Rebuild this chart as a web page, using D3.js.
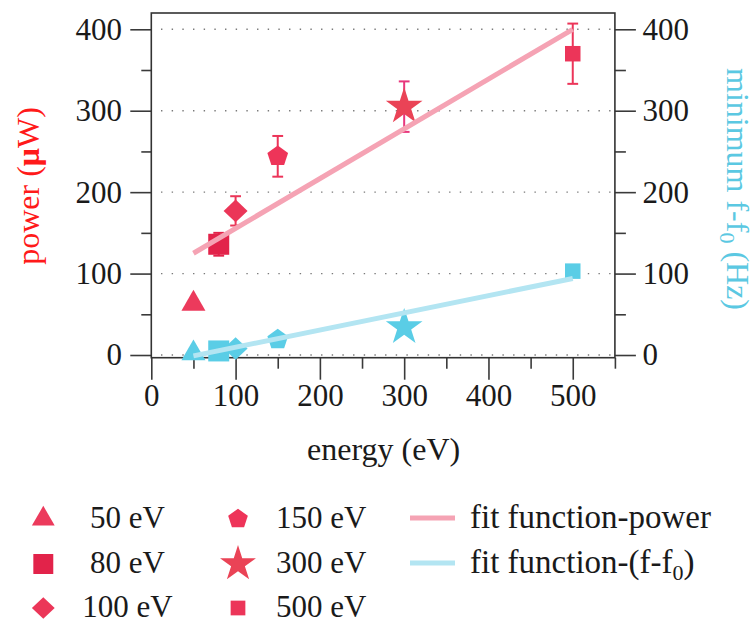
<!DOCTYPE html>
<html>
<head>
<meta charset="utf-8">
<script src="https://cdn.jsdelivr.net/npm/d3@7/dist/d3.min.js"></script>
</head>
<body style="margin:0">
<svg id="chart" width="753" height="622" style="display:block"></svg>
<script>
// Beam energies (eV) and the two measured quantities at each energy
const energies = [50, 80, 100, 150, 300, 500];
const energyLabels = ["50 eV", "80 eV", "100 eV", "150 eV", "300 eV", "500 eV"];
const powerValues = [63, 136, 177, 244, 305, 370];     // µW
const powerErrors = [0, 14, 18, 25, 31, 37];           // µW
const freqValues = [2, 5, 8, 19, 34, 103];             // Hz (minimum f - f0)

// Linear fits, evaluated at the ends of the fitted range
const fitEnergy = [50, 500];
const fitPower = [125, 400];
const fitFreq = [-1, 94];

// Axis ticks
const xMajorTicks = [0, 100, 200, 300, 400, 500];
const xMinorTicks = [50, 150, 250, 350, 450, 550];
const yMajorTicks = [0, 100, 200, 300, 400];
const yMinorTicks = [50, 150, 250, 350];

// Marker look for each energy
const markerShape = ["triangle", "square", "diamond", "pentagon", "star", "square"];
const markerExtent = [24, 21, 24, 20.7, 36.7, 15.5];
const redShades = ["#ec3a5c", "#e2234a", "#eb3658", "#ee3459", "#ea4356", "#ec3559"];
const errShades = ["#ec3a5c", "#e2234a", "#eb3658", "#ec3459", "#e8367c", "#ec3559"];
const blue = "#5acde6";
const fitPink = "#f5a3b4";
const fitBlue = "#b3e5f2";
const FONT = "Liberation Serif";
const INK = "#1a1a1a";

const svg = d3.select("#chart");

const x = d3.scaleLinear().domain([0, 550]).range([151.3, 614.9]);
const y = d3.scaleLinear().domain([-3.3, 420]).range([357.7, 13]);
const yRight = d3.scaleLinear().domain([-3.3, 420]).range([357.7, 13]);

// Symbol path for a given shape, sized by its visual extent in px
function symbolPath(shape, extent) {
  if (shape === "triangle") {
    const r = extent / (2 * Math.sqrt(3));
    return d3.symbol(d3.symbolTriangle, r * r * 3 * Math.sqrt(3))();
  }
  if (shape === "square") {
    return d3.symbol(d3.symbolSquare, extent * extent)();
  }
  if (shape === "diamond") {
    const p = d3.path();
    const h = extent / 2, v = extent * 0.47;
    p.moveTo(0, -v); p.lineTo(h, 0); p.lineTo(0, v); p.lineTo(-h, 0); p.closePath();
    return p.toString();
  }
  if (shape === "pentagon") {
    const r = extent / (2 * Math.sin(Math.PI * 2 / 5));
    const pts = d3.range(5).map(k => {
      const a = -Math.PI / 2 + k * 2 * Math.PI / 5;
      return [r * Math.cos(a), r * Math.sin(a)];
    });
    return d3.line()(pts) + "Z";
  }
  if (shape === "star") {
    const r = extent / (2 * Math.sin(2 * Math.PI / 5));
    return d3.symbol(d3.symbolStar, r * r / 0.8908130915292852)();
  }
}

// Dotted horizontal grid
svg.append("g").selectAll("line").data(yMajorTicks).join("line")
  .attr("x1", x(0)).attr("x2", x(550))
  .attr("y1", d => y(d)).attr("y2", d => y(d))
  .attr("stroke", "#7a7a7a").attr("stroke-width", 1.4)
  .attr("stroke-dasharray", "1.4 9.27")
  .attr("stroke-dashoffset", 0.97);

// Axes: ticks point outward, labels in serif
function styleAxis(g) {
  g.attr("font-family", FONT).attr("font-size", 31);
  g.select(".domain").remove();
  g.selectAll(".tick line").attr("stroke", "#3a3a3a").attr("stroke-width", 1.6);
  g.selectAll(".tick text").attr("font-family", FONT).attr("font-size", 31).attr("fill", INK);
}
const bottomY = y(-3.3);
svg.append("g").attr("transform", `translate(0,${bottomY})`)
  .call(d3.axisBottom(x).tickValues(xMajorTicks).tickSize(22).tickPadding(4.8).tickFormat(d3.format("d")))
  .call(styleAxis);
svg.append("g").attr("transform", `translate(0,${bottomY})`)
  .call(d3.axisBottom(x).tickValues(xMinorTicks).tickSize(11).tickFormat(""))
  .call(styleAxis);
svg.append("g").attr("transform", `translate(${x(0)},0)`)
  .call(d3.axisLeft(y).tickValues(yMajorTicks).tickSize(21).tickPadding(8.3).tickFormat(d3.format("d")))
  .call(styleAxis);
svg.append("g").attr("transform", `translate(${x(0)},0)`)
  .call(d3.axisLeft(y).tickValues(yMinorTicks).tickSize(10).tickFormat(""))
  .call(styleAxis);
svg.append("g").attr("transform", `translate(${x(550)},0)`)
  .call(d3.axisRight(yRight).tickValues(yMajorTicks).tickSize(21).tickPadding(6.7).tickFormat(d3.format("d")))
  .call(styleAxis);
svg.append("g").attr("transform", `translate(${x(550)},0)`)
  .call(d3.axisRight(yRight).tickValues(yMinorTicks).tickSize(11).tickFormat(""))
  .call(styleAxis);

// Plot frame
svg.append("rect")
  .attr("x", x(0)).attr("y", y(420))
  .attr("width", x(550) - x(0)).attr("height", y(-3.3) - y(420))
  .attr("fill", "none").attr("stroke", "#333").attr("stroke-width", 1.6);

// Error bars on power
const points = energies.map((e, i) => ({
  e, p: powerValues[i], err: powerErrors[i], f: freqValues[i],
  shape: markerShape[i], size: markerExtent[i], color: redShades[i], errColor: errShades[i]
}));
const capHalf = 5.4;
const eb = svg.append("g").selectAll("g").data(points.filter(d => d.err > 0)).join("g")
  .attr("stroke", d => d.errColor).attr("stroke-width", 2).attr("fill", "none");
eb.append("line").attr("x1", d => x(d.e)).attr("x2", d => x(d.e))
  .attr("y1", d => y(d.p - d.err)).attr("y2", d => y(d.p + d.err));
eb.append("line").attr("x1", d => x(d.e) - capHalf).attr("x2", d => x(d.e) + capHalf)
  .attr("y1", d => y(d.p + d.err)).attr("y2", d => y(d.p + d.err));
eb.append("line").attr("x1", d => x(d.e) - capHalf).attr("x2", d => x(d.e) + capHalf)
  .attr("y1", d => y(d.p - d.err)).attr("y2", d => y(d.p - d.err));

// Power markers (left axis)
svg.append("g").selectAll("path").data(points).join("path")
  .attr("d", d => symbolPath(d.shape, d.size))
  .attr("transform", d => `translate(${x(d.e)},${y(d.p)})`)
  .attr("fill", d => d.color);

// Frequency markers (right axis)
svg.append("g").selectAll("path").data(points).join("path")
  .attr("d", d => symbolPath(d.shape, d.size))
  .attr("transform", d => `translate(${x(d.e)},${yRight(d.f)})`)
  .attr("fill", blue);

// Fit lines
const fitLine = (scale, vals) => d3.line().x(d => x(d)).y((d, i) => scale(vals[i]))(fitEnergy);
svg.append("path").attr("d", fitLine(y, fitPower))
  .attr("stroke", fitPink).attr("stroke-width", 5).attr("fill", "none");
svg.append("path").attr("d", fitLine(yRight, fitFreq))
  .attr("stroke", fitBlue).attr("stroke-width", 5).attr("fill", "none");

// Serif text helper
function serifText(parent, size, color) {
  return parent.append("text")
    .attr("font-family", FONT).attr("font-size", size).attr("fill", color);
}

// Axis titles
serifText(svg, 32, INK)
  .attr("text-anchor", "middle")
  .attr("x", (x(0) + x(550)) / 2 + 0.5).attr("y", 460)
  .text("energy (eV)");

const leftTitle = serifText(svg, 32, "#ff1a1a")
  .attr("text-anchor", "middle")
  .attr("transform", "translate(38.5,186) rotate(-90)");
leftTitle.append("tspan").text("power (");
leftTitle.append("tspan").attr("font-weight", "bold").text("μ");
leftTitle.append("tspan").text("W)");

const rightTitle = serifText(svg, 32, "#5bc8e2")
  .attr("text-anchor", "middle")
  .attr("transform", "translate(727,189) rotate(90)");
rightTitle.append("tspan").text("minimum f-f");
rightTitle.append("tspan").attr("font-size", 22).attr("dy", 7).text("0");
rightTitle.append("tspan").attr("dy", -7).text(" (Hz)");

// Legend: markers for each energy in two columns, fit lines in a third
const legendRows = [528, 573, 617];
const legend = svg.append("g");
points.forEach((d, i) => {
  const col = Math.floor(i / 3), row = i % 3;
  const mx = col === 0 ? 43.3 : 238;
  legend.append("path")
    .attr("d", symbolPath(d.shape, col === 1 && d.shape === "star" ? 36 : d.size * 0.95))
    .attr("transform", `translate(${mx},${legendRows[row] - 9})`)
    .attr("fill", d.color);
  serifText(legend, 31, INK)
    .attr("text-anchor", col === 0 ? "middle" : "start")
    .attr("x", col === 0 ? 127.5 : 276)
    .attr("y", legendRows[row])
    .text(energyLabels[i]);
});
const fitEntries = [
  { color: fitPink, parts: [["fit function-power", 0]] },
  { color: fitBlue, parts: [["fit function-(f-f", 0], ["0", 7], [")", -7]] }
];
fitEntries.forEach((f, i) => {
  const by = legendRows[i];
  legend.append("line")
    .attr("x1", 410).attr("x2", 455)
    .attr("y1", by - 10).attr("y2", by - 10)
    .attr("stroke", f.color).attr("stroke-width", 5);
  const t = serifText(legend, 33, INK).attr("x", 470).attr("y", by);
  f.parts.forEach(([s, dy]) => {
    const ts = t.append("tspan").attr("dy", dy).text(s);
    if (s === "0") ts.attr("font-size", 22);
  });
});
</script>
</body>
</html>
